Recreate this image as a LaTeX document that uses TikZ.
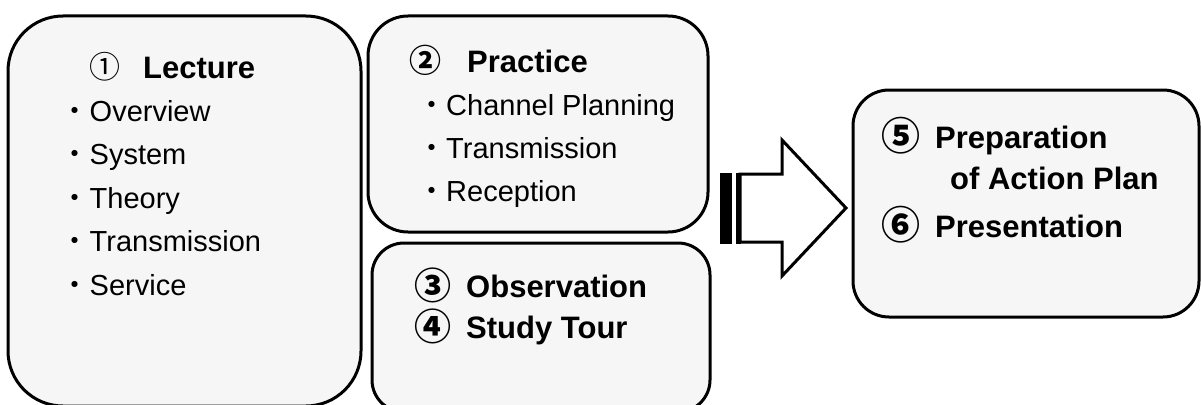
\documentclass[tikz,border=0pt]{standalone}
\usepackage{fontspec}
\setmainfont{Liberation Sans}
\newfontfamily\cjkfont{Noto Sans CJK JP}
\usetikzlibrary{calc}
\definecolor{boxfill}{HTML}{F6F6F6}

\tikzset{
  panel/.style={draw=black, line width=3pt, fill=boxfill, rounded corners=#1, inner sep=0pt},
  num/.style={anchor=base, inner sep=0pt, font=\fontsize{#1}{36}\selectfont\cjkfont},
  head/.style={anchor=base west, inner sep=0pt, font=\fontsize{31}{36}\selectfont\bfseries},
  item/.style={anchor=base west, inner sep=0pt, font=\fontsize{29}{34}\selectfont},
}

\begin{document}
\begin{tikzpicture}[x=1pt,y=-1pt]
  % Boundary
  \path[use as bounding box] (0,0) rectangle (1201,404);
  \clip (0,0) rectangle (1201,404);
  % Panels
  \node[panel=55pt, minimum width=353pt, minimum height=390pt] (lecture) at (184.5,211) {};
  \node[panel=40pt, minimum width=340pt, minimum height=216pt] (practice) at (538,124) {};
  \node[panel=32pt, minimum width=338pt, minimum height=169pt] (observe) at (541,327.5) {};
  \node[panel=36pt, minimum width=346pt, minimum height=227pt] (plan) at (1026,203.5) {};
  % Striped arrow
  \coordinate (arw) at (782,208);
  \filldraw[fill=white, line width=3pt, line join=miter]
    ($(arw)+(-42,-34)$) -- ($(arw)+(0,-34)$) -- ($(arw)+(0,-68)$) -- ($(arw)+(64,0)$)
    -- ($(arw)+(0,68)$) -- ($(arw)+(0,34)$) -- ($(arw)+(-42,34)$) -- cycle;
  \fill ($(arw)+(-62,-35.5)$) rectangle ($(arw)+(-50,35.5)$);
  \fill ($(arw)+(-46,-35.5)$) rectangle ($(arw)+(-41,35.5)$);
  % Lecture
  \node[num=31] (lecnum) at (105,78) {①};
  \node[head] (lechead) at (143,78) {Lecture};
  \foreach \txt [count=\i] in {Overview,System,Theory,Transmission,Service}
    \node[item] (lec\i) at (60.5,{77.5+43.5*\i}) {{\cjkfont ・}\txt};
  % Practice
  \node[num=32] (prnum) at (425.5,73) {\bfseries ②};
  \node[head] (prhead) at (467,72) {Practice};
  \foreach \txt [count=\i] in {Channel Planning,Transmission,Reception}
    \node[item] (pr\i) at (417,{72+43*\i}) {{\cjkfont ・}\txt};
  % Observation and tour
  \node[num=37] (obnum) at (432.5,299.5) {\bfseries ③};
  \node[head] (obhead) at (466,297) {Observation};
  \node[num=37] (tournum) at (432.5,340.5) {\bfseries ④};
  \node[head] (tourhead) at (466,338) {Study Tour};
  % Action plan
  \node[num=39] (plnum) at (901,150.5) {\bfseries ⑤};
  \node[head] (plhead) at (935,148) {Preparation};
  \node[head] (plhead2) at (950,189) {of Action Plan};
  \node[num=39] (psnum) at (901,239.5) {\bfseries ⑥};
  \node[head] (pshead) at (935,237) {Presentation};
\end{tikzpicture}
\end{document}
